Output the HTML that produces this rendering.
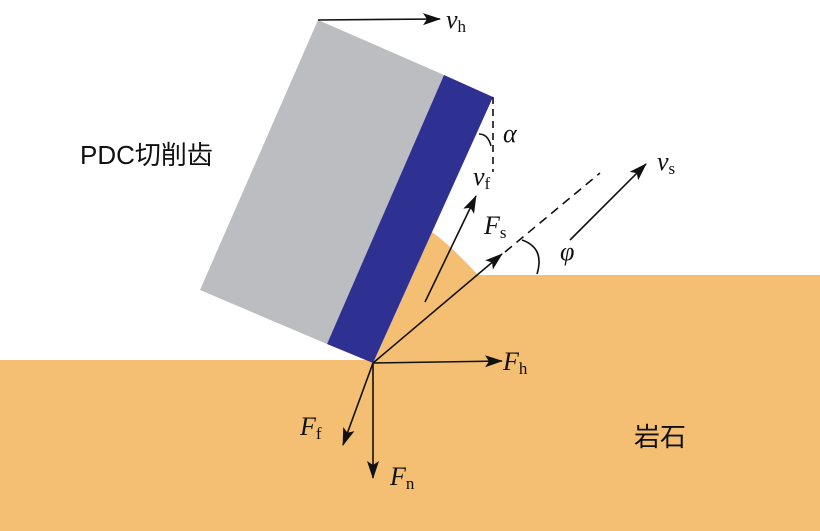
<!DOCTYPE html><html><head><style>body{margin:0;background:#fff}svg{display:block}
text{font-family:"Liberation Serif",serif;font-style:italic;fill:#111}
.c{font-family:"Liberation Sans","Noto Sans CJK SC",sans-serif;font-style:normal}
.s{font-style:normal;font-size:17px}</style></head><body>
<svg width="820" height="531" viewBox="0 0 820 531">
<defs><marker id="a" markerWidth="10" markerHeight="8" refX="9" refY="4" orient="auto" markerUnits="userSpaceOnUse" viewBox="0 0 10 8"><path d="M0,0L10,4L0,8L2,4Z" fill="#111"/></marker>
<marker id="b" markerWidth="18" markerHeight="12" refX="17" refY="6" orient="auto" markerUnits="userSpaceOnUse" viewBox="0 0 18 12"><path d="M0,0L18,6L0,12L4,6Z" fill="#111"/></marker></defs>
<rect x="0" y="360" width="820" height="171" fill="#f4bf72"/>
<rect x="476" y="275" width="344" height="90" fill="#f4bf72"/>
<path d="M432,232 Q450,245 478,275 L480,362 L373,363 Z" fill="#f4bf72"/>
<polygon points="318,20 444,75 327,344 200,290" fill="#bcbdc0"/>
<polygon points="444,75 493,97 373,363 327,344" fill="#2e3192"/>
<g stroke="#111" stroke-width="1.6" fill="none">
<line x1="318" y1="20" x2="440" y2="19" marker-end="url(#b)"/>
<line x1="493" y1="97" x2="493" y2="172" stroke-dasharray="7,5"/>
<path d="M479,134 Q488,134 491,146"/>
<line x1="373" y1="363" x2="502" y2="361" marker-end="url(#b)"/>
<line x1="373" y1="363" x2="502" y2="254" marker-end="url(#b)"/>
<line x1="505" y1="252" x2="600" y2="173" stroke-dasharray="9,6"/>
<line x1="570" y1="240" x2="646" y2="164" marker-end="url(#b)"/>
<line x1="425" y1="302" x2="476" y2="196" marker-end="url(#b)"/>
<line x1="373" y1="363" x2="343" y2="445" marker-end="url(#b)"/>
<line x1="373" y1="363" x2="373" y2="478" marker-end="url(#b)"/>
<path d="M522,240 Q545,248 537,274"/>
</g>
<text x="446" y="28" font-size="26">v<tspan class="s" dy="4">h</tspan></text>
<text x="503" y="142" font-size="26">α</text>
<text x="473" y="185" font-size="26">v<tspan class="s" dy="4">f</tspan></text>
<text x="484" y="234" font-size="26">F<tspan class="s" dy="4">s</tspan></text>
<text x="657" y="170" font-size="26">v<tspan class="s" dy="4">s</tspan></text>
<text x="560" y="260" font-size="26">φ</text>
<text x="503" y="370" font-size="26">F<tspan class="s" dy="4">h</tspan></text>
<text x="300" y="435" font-size="26">F<tspan class="s" dy="4">f</tspan></text>
<text x="390" y="485" font-size="26">F<tspan class="s" dy="4">n</tspan></text>
<text class="c" x="80" y="164" font-size="26">PDC切削齿</text>
<text class="c" x="634" y="446" font-size="26">岩石</text>
</svg></body></html>
